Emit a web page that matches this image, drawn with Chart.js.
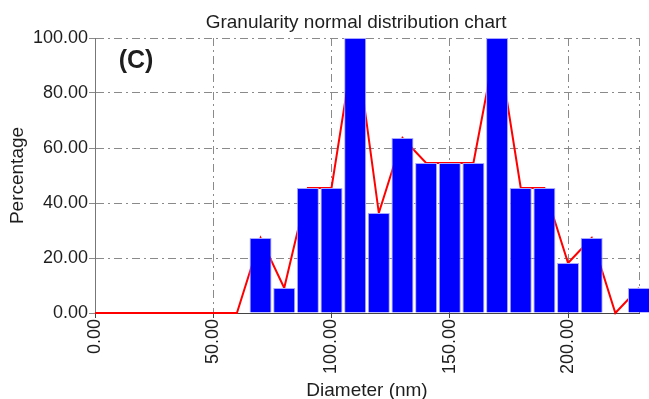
<!DOCTYPE html>
<html>
<head>
<meta charset="utf-8">
<script src="https://cdn.jsdelivr.net/npm/chart.js@4/dist/chart.umd.min.js"></script>
<style>
    html, body { margin: 0; padding: 0; background: #fff; }
    #wrap { width: 649px; height: 399px; }
</style>
</head>
<body>
<div id="wrap"><canvas id="sizeChart" width="649" height="399"></canvas></div>
<script>
// bin centres (nm) and percentage per bin
const diameters = [0, 10, 20, 30, 40, 50, 60, 70, 80, 90, 100, 110, 120, 130, 140, 150, 160, 170, 180, 190, 200, 210, 220, 230];
const percentages = [0, 0, 0, 0, 0, 0, 0, 27.27, 9.09, 45.45, 45.45, 100, 36.36, 63.64, 54.55, 54.55, 54.55, 100, 45.45, 45.45, 18.18, 27.27, 0, 9.09];
const xTicks = [0, 50, 100, 150, 200, 230];
const yTicks = [0, 20, 40, 60, 80, 100];

const chartTitle = 'Granularity normal distribution chart';
const panelLabel = '(C)';

const FONT = "'Liberation Sans', Arial, sans-serif";
const TEXT = '#1e1e1e';
const GRID = '#8a8a8a';

const curvePoints = diameters.map((d, i) => ({ x: d, y: percentages[i] }));
const barPoints = curvePoints.filter(p => p.y > 0);

// title and panel letter drawn on the canvas
const textPlugin = {
    id: 'extraText',
    afterDraw(chart) {
        const ctx = chart.ctx;
        const area = chart.chartArea;
        ctx.save();
        ctx.fillStyle = TEXT;
        ctx.textAlign = 'center';
        ctx.textBaseline = 'middle';
        ctx.font = `19px ${FONT}`;
        ctx.fillText(chartTitle, area.left + (area.right - area.left) * 0.48, 23);
        ctx.font = `bold 25px ${FONT}`;
        ctx.fillText(panelLabel, area.left + 41, area.top + 23);
        ctx.restore();
    }
};

new Chart(document.getElementById('sizeChart').getContext('2d'), {
    data: {
        datasets: [
            {
                type: 'bar',
                data: barPoints,
                backgroundColor: '#0000ff',
                borderColor: '#a8a8ff',
                borderWidth: 1,
                borderSkipped: 'start',
                barPercentage: 0.93,
                categoryPercentage: 1,
                clip: false,
                order: 1
            },
            {
                type: 'line',
                data: curvePoints,
                borderColor: '#ff0000',
                borderWidth: 2,
                pointRadius: 0,
                tension: 0,
                fill: false,
                clip: { left: 3, right: 3, top: 0, bottom: 3 },
                order: 2
            }
        ]
    },
    options: {
        responsive: false,
        animation: false,
        layout: { padding: { top: 38, right: 10, left: 0, bottom: 0 } },
        plugins: {
            legend: { display: false },
            tooltip: { enabled: false }
        },
        scales: {
            x: {
                type: 'linear',
                min: 0,
                max: 230,
                offset: false,
                afterBuildTicks: scale => { scale.ticks = xTicks.map(v => ({ value: v })); },
                afterFit: scale => {
                    scale.height = 86;
                    scale.paddingLeft = 0;
                    scale.paddingRight = 0;
                },
                ticks: {
                    minRotation: 90,
                    maxRotation: 90,
                    padding: 1,
                    color: TEXT,
                    font: { family: FONT, size: 18 },
                    callback: v => (v === 230 ? '' : v.toFixed(2))
                },
                grid: {
                    offset: false,
                    color: GRID,
                    lineWidth: 1,
                    tickLength: 5,
                    tickColor: ctx => (ctx.tick && ctx.tick.value === 230 ? 'rgba(0,0,0,0)' : '#444')
                },
                border: { display: true, color: '#444', width: 1, dash: [8, 4, 2, 4] },
                title: {
                    display: true,
                    text: 'Diameter (nm)',
                    color: TEXT,
                    font: { family: FONT, size: 19 },
                    padding: { top: 0, bottom: -3 }
                }
            },
            y: {
                type: 'linear',
                min: 0,
                max: 100,
                afterBuildTicks: scale => { scale.ticks = yTicks.map(v => ({ value: v })); },
                afterFit: scale => { scale.width = 95; },
                ticks: {
                    padding: 1,
                    color: TEXT,
                    font: { family: FONT, size: 18 },
                    callback: v => v.toFixed(2)
                },
                grid: {
                    color: GRID,
                    lineWidth: 1,
                    tickLength: 6,
                    tickColor: GRID
                },
                border: { display: true, color: '#777', width: 1, dash: [8, 4, 2, 4] },
                title: {
                    display: true,
                    text: 'Percentage',
                    color: TEXT,
                    font: { family: FONT, size: 19 },
                    padding: { top: 6, bottom: 0 }
                }
            }
        }
    },
    plugins: [textPlugin]
});
</script>
</body>
</html>
